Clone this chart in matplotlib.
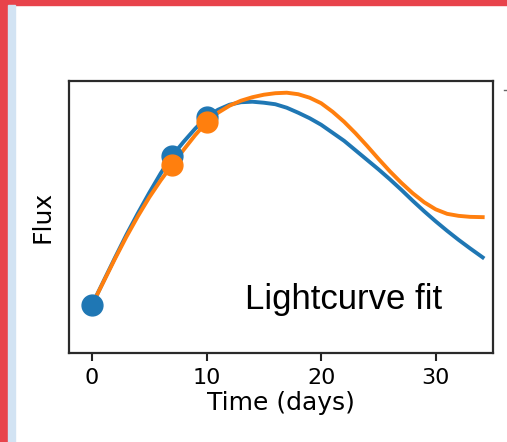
import matplotlib
matplotlib.use("Agg")
import matplotlib.pyplot as plt
from matplotlib.patches import Rectangle
from matplotlib.lines import Line2D

# observed points
obs_t_blue = [0, 7, 10]
obs_f_blue = [4.8, 19.7, 23.6]
obs_t_orange = [7, 10]
obs_f_orange = [18.8, 23.05]

# fitted lightcurves
fit_t = [0, 1, 2, 3, 4, 5, 6, 7, 8, 9, 10, 11, 12, 13, 14, 15, 16, 17, 18,
         19, 20, 21, 22, 23, 24, 25, 26, 27, 28, 29, 30, 31, 32, 33, 34.1]
fit_blue = [4.8, 7.15, 9.5, 11.8, 13.95, 16.0, 17.95, 19.7, 21.1, 22.4, 23.55,
            24.3, 24.8, 25.05, 25.1, 25.0, 24.85, 24.5, 24.0, 23.45, 22.8,
            22.0, 21.2, 20.25, 19.3, 18.35, 17.35, 16.3, 15.2, 14.15, 13.15,
            12.2, 11.3, 10.45, 9.55]
fit_orange = [4.8, 7.1, 9.4, 11.6, 13.65, 15.55, 17.25, 18.8, 20.3, 21.75, 23.05,
              24.0, 24.7, 25.2, 25.55, 25.8, 25.95, 26.0, 25.85, 25.5, 24.95,
              24.1, 23.1, 21.95, 20.7, 19.4, 18.15, 17.0, 15.95, 15.05, 14.35,
              13.9, 13.7, 13.6, 13.57]

xticks = [0, 10, 20, 30]

blue = "#1f77b4"
orange = "#ff7f0e"

fig = plt.figure(figsize=(5.07, 4.42), dpi=100)
W, H = 507, 442

# page frame around the figure
fig.patches.append(Rectangle((0, 0), 8 / W, 1, transform=fig.transFigure,
                             color="#e8434b", zorder=0))
fig.patches.append(Rectangle((0, 1 - 5 / H), 1, 5 / H, transform=fig.transFigure,
                             color="#e8434b", zorder=0))
fig.patches.append(Rectangle((8 / W, 0), 7 / W, 1 - 5 / H, transform=fig.transFigure,
                             color="#d2e3f3", zorder=0))
fig.lines.append(Line2D([504 / W, 507 / W], [1 - 90 / H, 1 - 90 / H],
                        transform=fig.transFigure, color="#666666", lw=1.0))

ax = fig.add_axes([68.5 / W, 1 - 353 / H, (493 - 68.5) / W, (353 - 80.7) / H])

ax.plot(fit_t, fit_blue, color=blue, lw=2.8, zorder=2, solid_joinstyle="round")
ax.plot(fit_t, fit_orange, color=orange, lw=2.8, zorder=3, solid_joinstyle="round")
ax.plot(obs_t_blue, obs_f_blue, "o", color=blue, ms=15, zorder=4)
ax.plot(obs_t_orange, obs_f_orange, "o", color=orange, ms=15, zorder=5)

ax.set_xlim(-2.05, 35.0)
ax.set_ylim(0, 27.2)
ax.set_xticks(xticks)
ax.set_yticks([])
ax.tick_params(axis="x", labelsize=16, length=6, width=1.5, pad=5, color="#222222")
for s in ax.spines.values():
    s.set_linewidth(1.6)
    s.set_color("#2a2a2a")

ax.set_xlabel("Time (days)", fontsize=18, labelpad=2)
ax.set_ylabel("Flux", fontsize=18, labelpad=10)

ax.text(0.416, 0.162, "Lightcurve fit", transform=ax.transAxes,
        fontsize=25, family="Liberation Sans", va="baseline", ha="left")

fig.savefig("out.png", dpi=100)
